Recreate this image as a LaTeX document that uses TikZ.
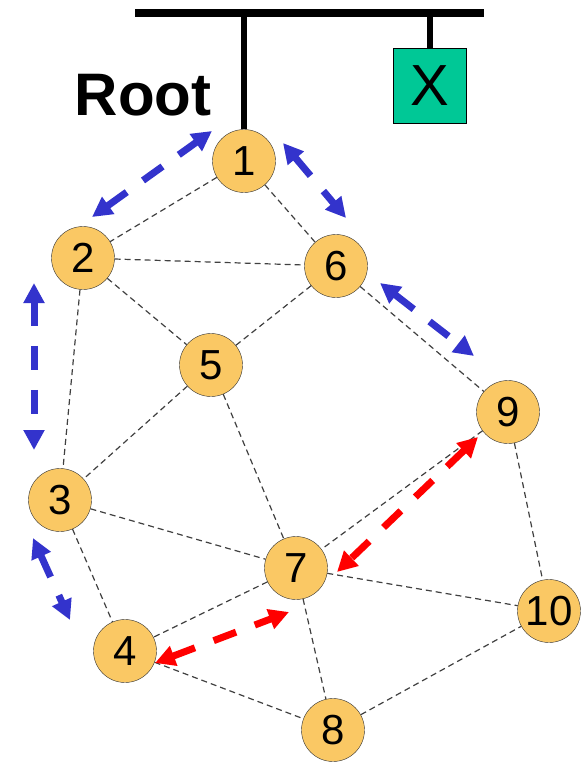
\documentclass[tikz,border=0pt]{standalone}
\usepackage{fontspec}
\setmainfont{Liberation Sans}
\usetikzlibrary{arrows.meta}

\definecolor{nodefill}{RGB}{250,200,100}
\definecolor{boxgreen}{RGB}{0,200,150}
\definecolor{ringblue}{RGB}{51,51,204}

\begin{document}
\begin{tikzpicture}[x=1pt, y=-1pt,
    vtx/.style={circle, draw=black!80, fill=nodefill, minimum size=63pt, inner sep=0pt, font=\fontsize{42}{42}\selectfont},
    link/.style={dash pattern=on 6pt off 4pt, black!75, line width=1.2pt},
    ring/.style={line width=7pt, dash pattern=on 24pt off 20pt, {Triangle[length=20pt,width=20pt]}-{Triangle[length=20pt,width=20pt]}},
    bus/.style={line width=8pt}]

\useasboundingbox (0,0) rectangle (588,763);

% Bus and the attached station
\coordinate (busL) at (135,13);
\coordinate (busR) at (484,13);
\draw[bus] (busL) -- (busR);
\node[draw=black, fill=boxgreen, minimum width=73pt, minimum height=75pt, inner sep=0pt,
    font=\fontsize{58}{58}\selectfont] (xbox) at (430,86) {X};
\draw[line width=6pt] (xbox.north) -- (xbox.north |- busL);

\node[font=\fontsize{60}{60}\selectfont\bfseries] (root) at (143,95) {Root};

% Stations
\foreach \n/\x/\y in {1/244/161, 2/83/258, 3/60/500, 4/125/651, 5/211/365,
                      6/336/266, 7/296/568, 8/333/730, 9/508/412, 10/549/611}
    \node[vtx] (n\n) at (\x,\y) {\n};

\draw[line width=6pt] (n1.north) -- (n1.north |- busL);

% Links between stations
\foreach \a/\b in {1/2,1/6,2/6,2/5,2/3,6/5,6/9,5/3,5/7,3/7,3/4,9/7,9/10,7/10,7/4,7/8,4/8,8/10}
    \draw[link] (n\a) -- (n\b);

% Ring (blue) - token passing
\coordinate (r2a) at (92,217);   \coordinate (r1a) at (212,131);
\coordinate (r1b) at (283,143);  \coordinate (r6a) at (346,218);
\coordinate (r6b) at (380,283);  \coordinate (r9a) at (474,356);
\coordinate (r2b) at (34,283);   \coordinate (r3a) at (34,450);
\coordinate (r3b) at (33,538);   \coordinate (r4a) at (70,620);
\foreach \s/\t in {r2a/r1a, r1b/r6a, r6b/r9a, r2b/r3a, r3b/r4a}
    \draw[ring, ringblue] (\s) -- (\t);

% Ring (red)
\coordinate (r9b) at (478,437);  \coordinate (r7a) at (337,572);
\coordinate (r4b) at (155,663);  \coordinate (r7b) at (289,612);
\foreach \s/\t in {r9b/r7a, r4b/r7b}
    \draw[ring, red] (\s) -- (\t);

\end{tikzpicture}
\end{document}
